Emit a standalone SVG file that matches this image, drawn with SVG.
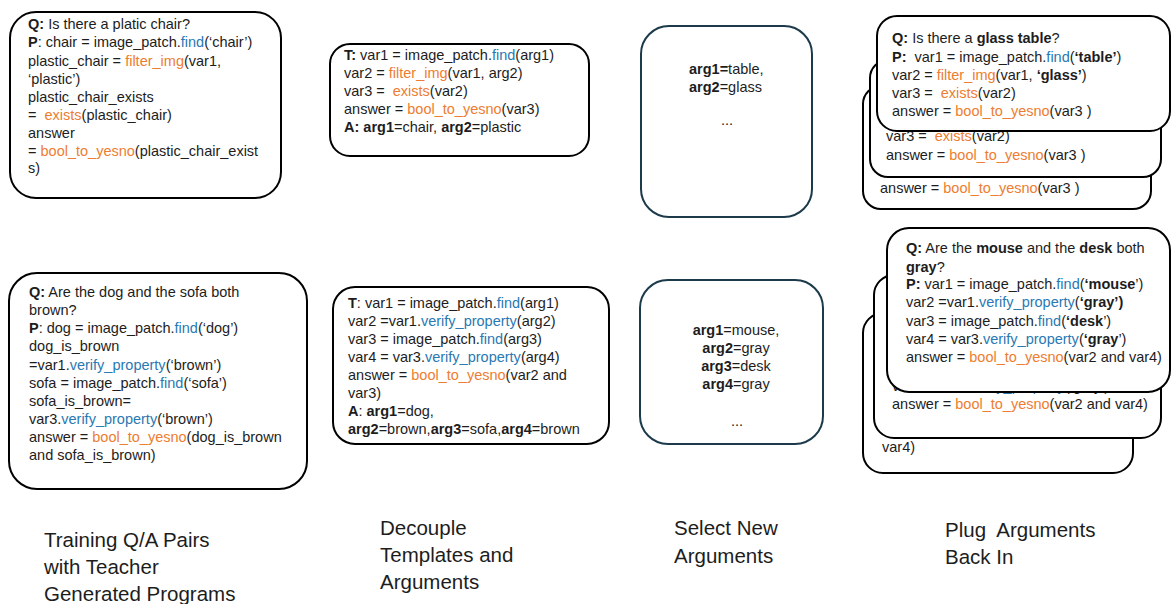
<svg xmlns="http://www.w3.org/2000/svg" width="1172" height="604" viewBox="0 0 1172 604">
<style>
text{font-family:"Liberation Sans",Arial,sans-serif;font-size:14.5px;fill:#1d1d1d;white-space:pre}
.b{font-weight:bold}
.bl{fill:#2A79B3}
.or{fill:#ED7D31}
.box{fill:#fff;stroke:#000;stroke-width:2}
.abox{fill:#fff;stroke:#1c3a4a;stroke-width:2}
.lbl{font-size:20.5px}
</style>
<g id="connectors"/>
<g id="node-train-1">
<rect class="box" x="10" y="12" width="271" height="186" rx="26"/>
<text x="28" y="29"><tspan class="b">Q:</tspan> Is there a platic chair?</text>
<text x="28" y="47"><tspan class="b">P</tspan>: chair = image_patch.<tspan class="bl">find</tspan>(‘chair’)</text>
<text x="28" y="65.5">plastic_chair = <tspan class="or">filter_img</tspan>(var1,</text>
<text x="28" y="84">‘plastic’)</text>
<text x="28" y="102">plastic_chair_exists</text>
<text x="28" y="120">=  <tspan class="or">exists</tspan>(plastic_chair)</text>
<text x="28" y="138">answer</text>
<text x="28" y="155.5">= <tspan class="or">bool_to_yesno</tspan>(plastic_chair_exist</text>
<text x="28" y="173">s)</text>
</g>
<g id="node-train-2">
<rect class="box" x="9" y="273" width="298" height="216" rx="28"/>
<text x="29" y="297"><tspan class="b">Q:</tspan> Are the dog and the sofa both</text>
<text x="29" y="315">brown?</text>
<text x="29" y="333"><tspan class="b">P</tspan>: dog = image_patch.<tspan class="bl">find</tspan>(‘dog’)</text>
<text x="29" y="351">dog_is_brown</text>
<text x="29" y="370">=var1.<tspan class="bl">verify_property</tspan>(‘brown’)</text>
<text x="29" y="388">sofa = image_patch.<tspan class="bl">find</tspan>(‘sofa’)</text>
<text x="29" y="406">sofa_is_brown=</text>
<text x="29" y="424">var3.<tspan class="bl">verify_property</tspan>(‘brown’)</text>
<text x="29" y="442">answer = <tspan class="or">bool_to_yesno</tspan>(dog_is_brown</text>
<text x="29" y="460">and sofa_is_brown)</text>
</g>
<g id="node-template-1">
<rect class="box" x="330" y="44" width="259" height="112" rx="20"/>
<text x="344" y="60"><tspan class="b">T:</tspan> var1 = image_patch.<tspan class="bl">find</tspan>(arg1)</text>
<text x="344" y="78">var2 = <tspan class="or">filter_img</tspan>(var1, arg2)</text>
<text x="344" y="96">var3 =  <tspan class="or">exists</tspan>(var2)</text>
<text x="344" y="114">answer = <tspan class="or">bool_to_yesno</tspan>(var3)</text>
<text x="344" y="132"><tspan class="b">A: arg1</tspan>=chair, <tspan class="b">arg2</tspan>=plastic</text>
</g>
<g id="node-template-2">
<rect class="box" x="333" y="287" width="276" height="157" rx="22"/>
<text x="348" y="308"><tspan class="b">T</tspan>: var1 = image_patch.<tspan class="bl">find</tspan>(arg1)</text>
<text x="348" y="326">var2 =var1.<tspan class="bl">verify_property</tspan>(arg2)</text>
<text x="348" y="344">var3 = image_patch.<tspan class="bl">find</tspan>(arg3)</text>
<text x="348" y="362">var4 = var3.<tspan class="bl">verify_property</tspan>(arg4)</text>
<text x="348" y="380">answer = <tspan class="or">bool_to_yesno</tspan>(var2 and</text>
<text x="348" y="398">var3)</text>
<text x="348" y="416"><tspan class="b">A</tspan>: <tspan class="b">arg1</tspan>=dog,</text>
<text x="348" y="434"><tspan class="b">arg2</tspan>=brown,<tspan class="b">arg3</tspan>=sofa,<tspan class="b">arg4</tspan>=brown</text>
</g>
<g id="node-args-1">
<rect class="abox" x="641" y="26" width="171" height="191" rx="28"/>
<text x="689" y="74"><tspan class="b">arg1=</tspan>table,</text>
<text x="689" y="92"><tspan class="b">arg2</tspan>=glass</text>
<text x="727" y="125" text-anchor="middle">...</text>
</g>
<g id="node-args-2">
<rect class="abox" x="640" y="280" width="183" height="164" rx="28"/>
<text x="736" y="335" text-anchor="middle"><tspan class="b">arg1</tspan>=mouse,</text>
<text x="736" y="353" text-anchor="middle"><tspan class="b">arg2</tspan>=gray</text>
<text x="736" y="371" text-anchor="middle"><tspan class="b">arg3</tspan>=desk</text>
<text x="736" y="389" text-anchor="middle"><tspan class="b">arg4</tspan>=gray</text>
<text x="737" y="426" text-anchor="middle">...</text>
</g>
<g id="node-plug-1">
<rect class="box" x="863" y="86" width="288" height="123" rx="18"/>
<text x="880" y="193">answer = <tspan class="or">bool_to_yesno</tspan>(var3 )</text>
<rect class="box" x="870" y="60" width="291" height="117" rx="18"/>
<text x="886" y="141">var3 =  <tspan class="or">exists</tspan>(var2)</text>
<text x="886" y="160">answer = <tspan class="or">bool_to_yesno</tspan>(var3 )</text>
<rect class="box" x="877" y="16" width="293" height="115" rx="20"/>
<text x="892" y="43"><tspan class="b">Q:</tspan> Is there a <tspan class="b">glass table</tspan>?</text>
<text x="892" y="62"><tspan class="b">P:</tspan>  var1 = image_patch.<tspan class="bl">find</tspan>(<tspan class="b">‘table’</tspan>)</text>
<text x="892" y="80">var2 = <tspan class="or">filter_img</tspan>(var1, <tspan class="b">‘glass’</tspan>)</text>
<text x="892" y="98">var3 =  <tspan class="or">exists</tspan>(var2)</text>
<text x="892" y="116">answer = <tspan class="or">bool_to_yesno</tspan>(var3 )</text>
</g>
<g id="node-plug-2">
<rect class="box" x="863" y="313" width="270" height="160" rx="20"/>
<text x="882" y="452">var4)</text>
<rect class="box" x="874" y="275" width="287" height="163" rx="20"/>
<text x="892" y="391">var4 = var3.<tspan class="bl">verify_property</tspan>(‘gray’)</text>
<text x="892" y="409">answer = <tspan class="or">bool_to_yesno</tspan>(var2 and var4)</text>
<rect class="box" x="887" y="228" width="283" height="164" rx="22"/>
<text x="906" y="253"><tspan class="b">Q:</tspan> Are the <tspan class="b">mouse</tspan> and the <tspan class="b">desk</tspan> both</text>
<text x="906" y="272"><tspan class="b">gray</tspan>?</text>
<text x="906" y="289"><tspan class="b">P:</tspan> var1 = image_patch.<tspan class="bl">find</tspan>(<tspan class="b">‘mouse</tspan>’)</text>
<text x="906" y="307">var2 =var1.<tspan class="bl">verify_property</tspan>(<tspan class="b">‘gray’)</tspan></text>
<text x="906" y="326">var3 = image_patch.<tspan class="bl">find</tspan>(<tspan class="b">‘desk</tspan>’)</text>
<text x="906" y="344">var4 = var3.<tspan class="bl">verify_property</tspan>(<tspan class="b">‘gray</tspan>’)</text>
<text x="906" y="362">answer = <tspan class="or">bool_to_yesno</tspan>(var2 and var4)</text>
</g>
<g id="labels">
<text class="lbl" x="44" y="547">Training Q/A Pairs</text>
<text class="lbl" x="44" y="574">with Teacher</text>
<text class="lbl" x="44" y="601">Generated Programs</text>
<text class="lbl" x="380" y="535">Decouple</text>
<text class="lbl" x="380" y="562">Templates and</text>
<text class="lbl" x="380" y="589">Arguments</text>
<text class="lbl" x="674" y="535">Select New</text>
<text class="lbl" x="674" y="563">Arguments</text>
<text class="lbl" x="945" y="537">Plug  Arguments</text>
<text class="lbl" x="945" y="564">Back In</text>
</g>
</svg>
